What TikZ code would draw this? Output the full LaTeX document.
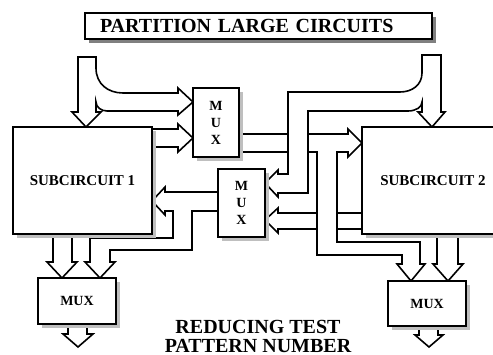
\documentclass[tikz,border=0pt]{standalone}
\usepackage{fontspec}
\setmainfont{Liberation Serif}
\usetikzlibrary{shadows}

\begin{document}
\begin{tikzpicture}[x=0.5pt, y=-0.5pt,
      box/.style={draw, fill=white, line width=0.8pt, inner sep=0pt, align=center,
        font=\fontsize{7.5}{8.5}\selectfont\bfseries,
        general shadow={shadow xshift=2pt, shadow yshift=-2pt, fill=black!25}},
      banner/.style={draw, fill=white, line width=0.8pt, inner ysep=0pt, inner xsep=7.5pt,
        text width=158.5pt, align=left, minimum height=13pt,
        font=\fontsize{10}{11}\selectfont\bfseries,
        general shadow={shadow xshift=2pt, shadow yshift=-2pt, fill=black!50}},
      fat/.style={draw, fill=white, line width=0.8pt, line join=miter},
      caption/.style={font=\fontsize{10}{9.5}\selectfont\bfseries, align=center}
    ]
    \useasboundingbox (0,0) rectangle (493,354);
    % wide arrows first, the boxes go on top of them
    \draw[fat] (364,213) -- (278,213) -- (278,208) -- (265,220) -- (278,233) -- (278,229) -- (364,229) -- cycle;
    \draw[fat] (237,134) -- (348,134) -- (348,129) -- (362,143) -- (348,157) -- (348,152) -- (337,152)
      -- (337,242) -- (420,242) -- (420,264) -- (425,264) -- (411,281) -- (397,264) -- (402,264)
      -- (402,255) -- (317,255) -- (317,152) -- (237,152) -- cycle;
    \draw[fat] (441,55) -- (422,55) -- (422,73) .. controls (422,85) and (412,92) .. (400,92) -- (288,92)
      -- (288,174) -- (278,174) -- (278,170) -- (265,183) -- (278,197) -- (278,193) -- (308,193)
      -- (308,111) -- (408,111) .. controls (416,111) and (422,107) .. (422,102)
      -- (422,112) -- (418,112) -- (432,127) -- (445,112) -- (441,112) -- cycle;
    \draw[fat] (78,57) -- (96,57) -- (96,68) .. controls (96,84) and (108,93) .. (123,93) -- (178,93)
      -- (178,88) -- (193,102) -- (178,115) -- (178,111) -- (107,111) .. controls (101,111) and (96,107) .. (96,102)
      -- (96,112) -- (101,112) -- (86,127) -- (72,112) -- (78,112) -- cycle;
    \draw[fat] (150,129) -- (178,129) -- (178,124) -- (193,138) -- (178,152) -- (178,147) -- (150,147) -- cycle;
    \draw[fat] (220,192) -- (165,192) -- (165,187) -- (152,201) -- (165,215) -- (165,211) -- (173,211)
      -- (173,238) -- (90,238) -- (90,262) -- (85,262) -- (100,278) -- (115,262) -- (110,262)
      -- (110,250) -- (192,250) -- (192,211) -- (220,211) -- cycle;
    \draw[fat] (53,232) -- (53,262) -- (47,262) -- (62,278) -- (77,262) -- (72,262) -- (72,232) -- cycle;
    \draw[fat] (437,232) -- (437,264) -- (433,264) -- (448,281) -- (463,264) -- (458,264) -- (458,232) -- cycle;
    \draw[fat] (68,322) -- (68,334) -- (63,334) -- (78,347) -- (93,334) -- (87,334) -- (87,322) -- cycle;
    \draw[fat] (419,324) -- (419,335) -- (415,335) -- (429,347) -- (443,335) -- (438,335) -- (438,324) -- cycle;
    % boxes
    \node[banner] (title) at (258.5,26) {PARTITION LARGE CIRCUITS};
    \node[box, minimum width=69.5pt, minimum height=53.5pt] (sub1) at (82.5,180.5) {SUBCIRCUIT 1};
    \node[box, minimum width=71pt, minimum height=53.5pt] (sub2) at (433,180.5) {SUBCIRCUIT 2};
    \node[box, minimum width=23pt, minimum height=34.5pt, font=\fontsize{7}{8.5}\selectfont\bfseries] (mux1) at (216,122.5) {M\\U\\X};
    \node[box, minimum width=23.5pt, minimum height=34pt, font=\fontsize{7}{8.5}\selectfont\bfseries] (mux2) at (241.5,203) {M\\U\\X};
    \node[box, minimum width=39pt, minimum height=23pt, font=\fontsize{7}{8.5}\selectfont\bfseries] (mux3) at (77,301) {MUX};
    \node[box, minimum width=39pt, minimum height=22.5pt, font=\fontsize{7}{8.5}\selectfont\bfseries] (mux4) at (427,303.5) {MUX};
    \node[caption] (goal) at (258,336) {REDUCING TEST\\PATTERN NUMBER};
  \end{tikzpicture}
\end{document}
